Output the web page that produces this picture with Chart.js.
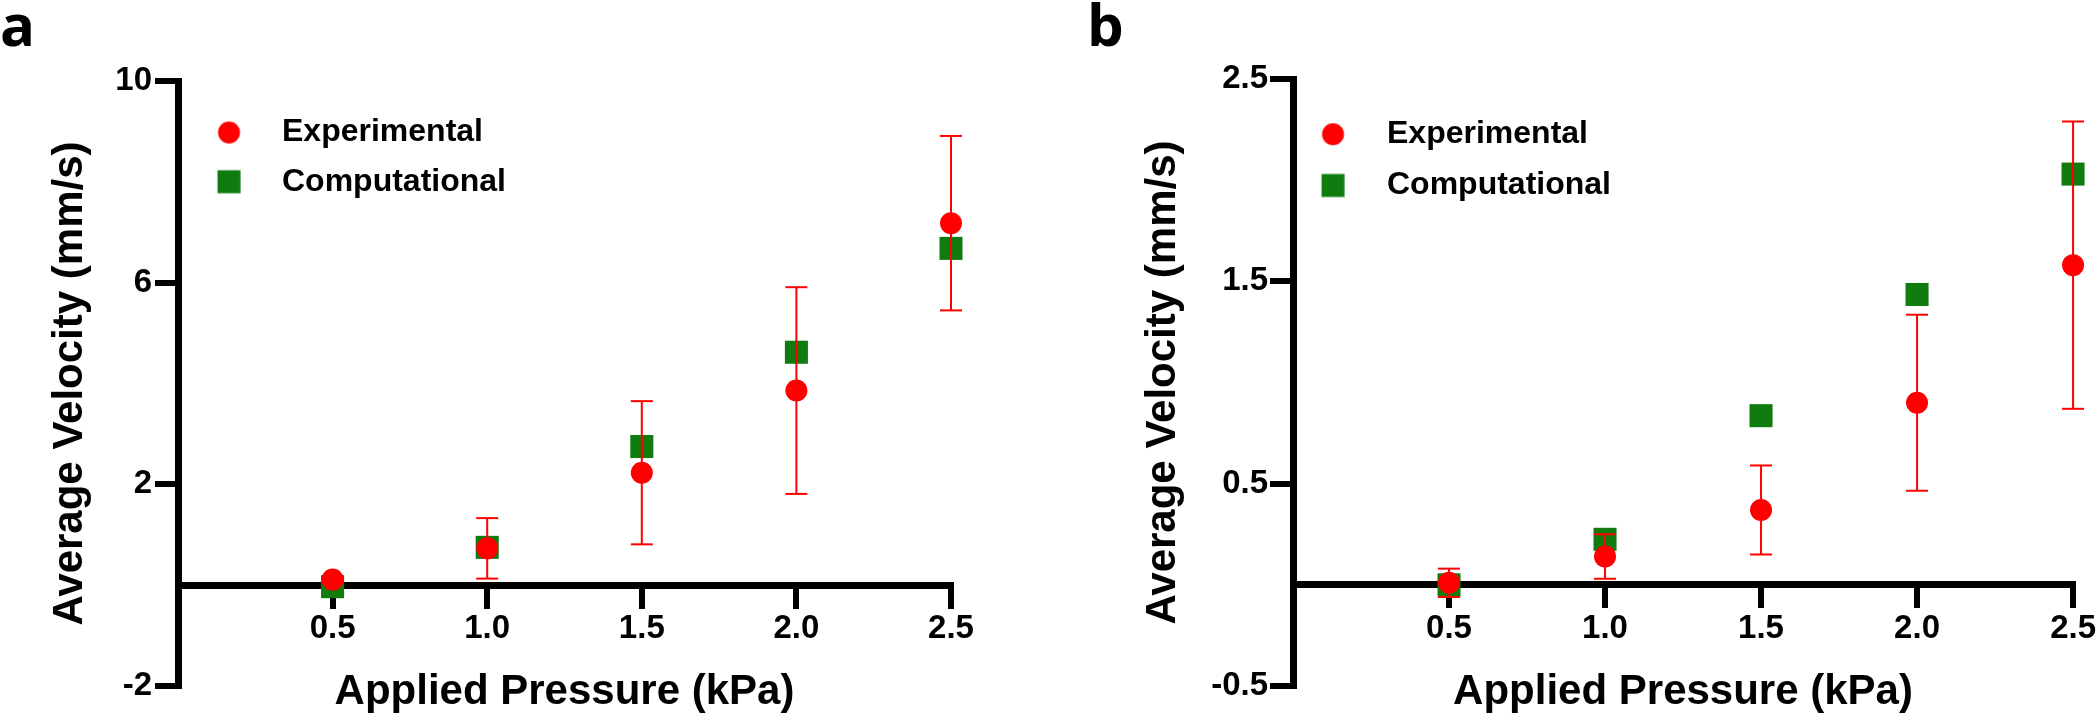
<!DOCTYPE html>
<html>
<head>
<meta charset="utf-8">
<script src="https://cdn.jsdelivr.net/npm/chart.js@4/dist/chart.umd.min.js"></script>
<style>
  body { margin: 0; background: #fff; }
  #wrap { position: relative; width: 2100px; height: 717px; }
  canvas { position: absolute; top: 0; }
  #chartA { left: 0; }
  #chartB { left: 1080px; }
</style>
</head>
<body>
<div id="wrap">
  <canvas id="chartA" width="1000" height="717"></canvas>
  <canvas id="chartB" width="1020" height="717"></canvas>
</div>
<script>
// applied pressure (kPa)
var pressure = [0.5, 1.0, 1.5, 2.0, 2.5];
var xTicks = [0.5, 1.0, 1.5, 2.0, 2.5];

// panel a
var expA = [0.11, 0.73, 2.23, 3.86, 7.18];
var sdA = [0.05, 0.60, 1.42, 2.05, 1.73];
var compA = [-0.03, 0.75, 2.75, 4.62, 6.68];
var yTicksA = [-2, 2, 6, 10];

// panel b
var expB = [0.01, 0.14, 0.37, 0.90, 1.58];
var sdB = [0.07, 0.11, 0.22, 0.435, 0.71];
var compB = [0.0, 0.225, 0.836, 1.435, 2.03];
var yTicksB = [-0.5, 0.5, 1.5, 2.5];

var RED = '#ff0000';
var GREEN = '#107c10';

Chart.defaults.font.family = 'Liberation Sans';
Chart.defaults.color = '#000';

// legend marker drawn into a small canvas (circle and square of the same visual size)
function legendMark(kind, color, shift) {
    var c = document.createElement('canvas');
    c.width = 90;
    c.height = 40;
    var g = c.getContext('2d');
    g.fillStyle = color;
    var cx = 45 + shift;
    if (kind === 'circle') {
        g.beginPath();
        g.arc(cx, 20, 11, 0, Math.PI * 2);
        g.fill();
    } else {
        g.fillRect(cx - 11.5, 8.5, 23, 23);
    }
    return c;
}

function points(ys) {
    return pressure.map(function(x, i) { return {x: x, y: ys[i]}; });
}

function errorPoints(ys, sd) {
    var pts = [];
    pressure.forEach(function(x, i) {
        pts.push({x: x, y: ys[i] - sd[i]}, {x: x, y: ys[i] + sd[i]}, {x: x, y: null});
    });
    return pts;
}

function makeChart(id, p) {
    var marks = {
        0: legendMark('circle', RED, p.markShift),
        2: legendMark('square', GREEN, p.markShift)
    };

    return new Chart(document.getElementById(id), {
        type: 'scatter',
        data: {
            datasets: [{
                label: 'Experimental',
                data: points(p.exp),
                pointStyle: 'circle',
                pointRadius: 11,
                pointHoverRadius: 11,
                backgroundColor: RED,
                borderWidth: 0,
                clip: false
            }, {
                label: 'sd',
                data: errorPoints(p.exp, p.sd),
                showLine: true,
                spanGaps: false,
                borderColor: RED,
                borderWidth: 2,
                pointStyle: 'line',
                pointRadius: 11,
                pointHoverRadius: 11,
                pointBorderColor: RED,
                pointBorderWidth: 2,
                clip: false
            }, {
                label: 'Computational',
                data: points(p.comp),
                pointStyle: 'rect',
                pointRadius: 16.3,
                pointHoverRadius: 16.3,
                backgroundColor: GREEN,
                borderWidth: 0,
                clip: false
            }]
        },
        options: {
            responsive: false,
            animation: false,
            events: [],
            layout: { padding: { left: p.padLeft, right: p.padRight, top: 0, bottom: 0 } },
            plugins: {
                tooltip: { enabled: false },
                title: {
                    display: true,
                    text: p.letter,
                    align: 'start',
                    color: '#000',
                    font: { family: 'Open Sans', size: 58, weight: 'bold', lineHeight: 1 },
                    padding: { top: 0, bottom: p.topGap }
                },
                legend: {
                    position: 'chartArea',
                    align: 'start',
                    // empty title only pushes the items down inside the plot
                    title: { display: true, text: '', padding: 0, font: { size: p.legendTop, lineHeight: 1 } },
                    labels: {
                        usePointStyle: true,
                        pointStyleWidth: p.legendBox,
                        padding: p.legendPad,
                        color: '#000',
                        font: { size: 32, weight: 'bold' },
                        filter: function(item) { return item.datasetIndex !== 1; },
                        generateLabels: function(chart) {
                            var items = Chart.defaults.plugins.legend.labels.generateLabels(chart);
                            items.forEach(function(it) {
                                if (marks[it.datasetIndex]) it.pointStyle = marks[it.datasetIndex];
                            });
                            return items;
                        }
                    }
                }
            },
            scales: {
                x: {
                    type: 'linear',
                    min: 0,
                    max: 2.5,
                    position: { y: 0 },
                    afterBuildTicks: function(s) {
                        s.ticks = xTicks.map(function(v) { return {value: v}; });
                    },
                    ticks: {
                        autoSkip: false,
                        maxRotation: 0,
                        padding: 4,
                        font: { size: 33, weight: 'bold' },
                        callback: function(v) { return Number(v).toFixed(1); }
                    },
                    grid: { display: true, drawOnChartArea: false, drawTicks: true, tickLength: 20, tickWidth: 6, lineWidth: 6, tickColor: '#000' },
                    border: { display: true, width: 7, color: '#000' },
                    title: { display: false }
                },
                x2: {
                    type: 'linear',
                    position: 'bottom',
                    display: true,
                    ticks: { display: false },
                    grid: { display: false, drawTicks: false },
                    border: { display: false },
                    title: {
                        display: true,
                        text: 'Applied Pressure (kPa)',
                        color: '#000',
                        font: { size: 42, weight: 'bold', lineHeight: '12px' },
                        padding: { top: 0, bottom: 19 }
                    }
                },
                y: {
                    type: 'linear',
                    min: p.yMin,
                    max: p.yMax,
                    position: 'left',
                    afterBuildTicks: function(s) {
                        s.ticks = p.yTicks.map(function(v) { return {value: v}; });
                    },
                    afterFit: function(s) { s.width = p.axisWidth; },
                    ticks: {
                        autoSkip: false,
                        padding: p.yTickPad,
                        font: { size: 33, weight: 'bold' },
                        callback: function(v) { return String(v); }
                    },
                    grid: { display: true, drawOnChartArea: false, drawTicks: true, tickLength: 23, tickWidth: 6, lineWidth: 6, tickColor: '#000' },
                    border: { display: true, width: 7, color: '#000' },
                    title: {
                        display: true,
                        text: 'Average Velocity (mm/s)',
                        color: '#000',
                        font: { size: 42, weight: 'bold' },
                        padding: { top: p.yTitlePad, bottom: 0 }
                    }
                }
            }
        }
    });
}

makeChart('chartA', {
    letter: 'a', exp: expA, sd: sdA, comp: compA,
    yMin: -2, yMax: 10, yTicks: yTicksA,
    padLeft: 0, padRight: 49, axisWidth: 178, topGap: 23,
    yTickPad: 3, yTitlePad: 44.8,
    legendPad: 17.2, legendTop: 99.3, legendBox: 70.8, markShift: -1.6
});

makeChart('chartB', {
    letter: 'b', exp: expB, sd: sdB, comp: compB,
    yMin: -0.5, yMax: 2.5, yTicks: yTicksB,
    padLeft: 7, padRight: 25.5, axisWidth: 206, topGap: 21,
    yTickPad: 2, yTitlePad: 50.8,
    legendPad: 19.3, legendTop: 98.9, legendBox: 58.7, markShift: -8.65
});
</script>
</body>
</html>
